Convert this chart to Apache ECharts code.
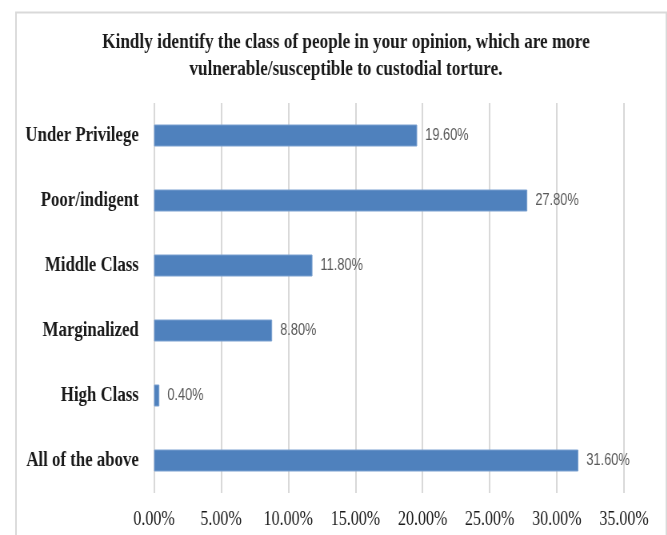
<!DOCTYPE html>
<html>
<head>
<meta charset="utf-8">
<script src="https://cdn.jsdelivr.net/npm/echarts@6/dist/echarts.min.js"></script>
<style>
html,body{margin:0;padding:0;background:#fff;overflow:hidden;width:667px;height:535px;}
#chart{width:834px;height:535px;transform:scaleX(0.8);transform-origin:0 0;}
</style>
</head>
<body>
<div id="chart"></div>
<script>
const titleLines = ["Kindly identify the class of people in your opinion, which are more", "vulnerable/susceptible to custodial torture."];
const categories = ["Under Privilege", "Poor/indigent", "Middle Class", "Marginalized", "High Class", "All of the above"];
const values = [19.6, 27.8, 11.8, 8.8, 0.4, 31.6];
const axisMin = 0, axisMax = 35, axisStep = 5;

const serif = '"Liberation Serif", "Times New Roman", serif';
const chart = echarts.init(document.getElementById('chart'), null, {renderer: 'canvas'});
chart.setOption({
  animation: false,
  backgroundColor: '#ffffff',
  title: {
    text: titleLines.join('\n'),
    left: 427.5,
    textAlign: 'center',
    top: 24,
    textStyle: {fontFamily: serif, fontWeight: 'bold', fontSize: 21.5, lineHeight: 27, color: '#1a1a1a'}
  },
  graphic: [{
    type: 'rect', left: 17.5, top: 10, shape: {x: 0, y: 0, width: 813, height: 540},
    style: {fill: 'none', stroke: '#d9d9d9', lineWidth: 2}, silent: true
  }],
  grid: {left: 192.5, right: 54, top: 103, bottom: 42, containLabel: false},
  xAxis: {
    type: 'value', min: axisMin, max: axisMax, interval: axisStep,
    axisLine: {show: false}, axisTick: {show: false},
    splitLine: {show: true, lineStyle: {color: '#d9d9d9', width: 2}},
    axisLabel: {
      margin: 17, color: '#1a1a1a', fontSize: 20, fontFamily: serif,
      formatter: v => v.toFixed(2) + '%'
    }
  },
  yAxis: {
    type: 'category', data: categories, inverse: true,
    axisLine: {show: false}, axisTick: {show: false},
    axisLabel: {
      margin: 19, color: '#1a1a1a', fontSize: 21, fontWeight: 'bold', fontFamily: serif
    }
  },
  series: [{
    type: 'bar', data: values, barWidth: 22,
    itemStyle: {color: '#4F81BD', borderColor: '#7aa0d0', borderWidth: 1},
    label: {
      show: true, position: 'right', distance: 10, color: '#595959', fontSize: 16,
      fontFamily: '"Liberation Sans", Arial, sans-serif',
      formatter: p => p.value.toFixed(2) + '%'
    }
  }]
});
</script>
</body>
</html>
